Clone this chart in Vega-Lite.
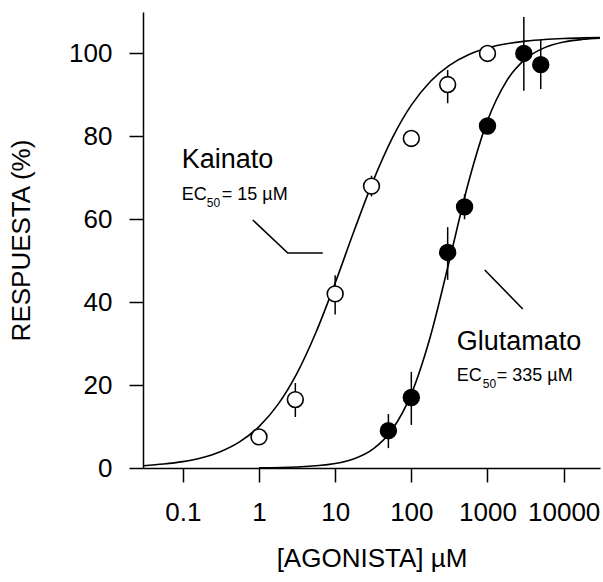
{
  "$schema": "https://vega.github.io/schema/vega-lite/v6.json",
  "width": 457,
  "height": 456,
  "autosize": "none",
  "padding": {"left": 143, "top": 12, "right": 3, "bottom": 114},
  "background": "white",
  "config": {
    "view": {"stroke": null},
    "font": "Liberation Sans",
    "axis": {
      "grid": false,
      "domainColor": "black",
      "domainWidth": 1.5,
      "tickColor": "black",
      "tickWidth": 1.5,
      "tickSize": 14,
      "labelFont": "Liberation Sans",
      "labelFontSize": 26,
      "labelColor": "black",
      "titleFont": "Liberation Sans",
      "titleFontSize": 26,
      "titleFontWeight": "normal",
      "titleColor": "black"
    }
  },
  "datasets": {
    "curves": [
      {"serie": "Kainato", "x": 0.03, "y": 0.56},
      {"serie": "Kainato", "x": 0.0562, "y": 0.95},
      {"serie": "Kainato", "x": 0.1, "y": 1.54},
      {"serie": "Kainato", "x": 0.1778, "y": 2.48},
      {"serie": "Kainato", "x": 0.3162, "y": 3.99},
      {"serie": "Kainato", "x": 0.5623, "y": 6.35},
      {"serie": "Kainato", "x": 1, "y": 9.98},
      {"serie": "Kainato", "x": 1.778, "y": 15.34},
      {"serie": "Kainato", "x": 3.162, "y": 22.89},
      {"serie": "Kainato", "x": 5.623, "y": 32.8},
      {"serie": "Kainato", "x": 10, "y": 44.61},
      {"serie": "Kainato", "x": 17.78, "y": 57.27},
      {"serie": "Kainato", "x": 31.62, "y": 69.33},
      {"serie": "Kainato", "x": 56.23, "y": 79.59},
      {"serie": "Kainato", "x": 100, "y": 87.53},
      {"serie": "Kainato", "x": 177.8, "y": 93.25},
      {"serie": "Kainato", "x": 316.2, "y": 97.13},
      {"serie": "Kainato", "x": 562.3, "y": 99.68},
      {"serie": "Kainato", "x": 1000, "y": 101.31},
      {"serie": "Kainato", "x": 1778, "y": 102.33},
      {"serie": "Kainato", "x": 3162, "y": 102.97},
      {"serie": "Kainato", "x": 5623, "y": 103.37},
      {"serie": "Kainato", "x": 10000, "y": 103.61},
      {"serie": "Kainato", "x": 17783, "y": 103.76},
      {"serie": "Kainato", "x": 30000, "y": 103.85},
      {"serie": "Glutamato", "x": 1, "y": 0.05},
      {"serie": "Glutamato", "x": 3.162, "y": 0.24},
      {"serie": "Glutamato", "x": 10, "y": 1.07},
      {"serie": "Glutamato", "x": 17.78, "y": 2.24},
      {"serie": "Glutamato", "x": 31.62, "y": 4.62},
      {"serie": "Glutamato", "x": 56.23, "y": 9.3},
      {"serie": "Glutamato", "x": 100, "y": 17.88},
      {"serie": "Glutamato", "x": 177.8, "y": 31.74},
      {"serie": "Glutamato", "x": 316.2, "y": 50.05},
      {"serie": "Glutamato", "x": 562.3, "y": 68.87},
      {"serie": "Glutamato", "x": 1000, "y": 83.79},
      {"serie": "Glutamato", "x": 1778, "y": 93.34},
      {"serie": "Glutamato", "x": 3162, "y": 98.67},
      {"serie": "Glutamato", "x": 5623, "y": 101.41},
      {"serie": "Glutamato", "x": 10000, "y": 102.76},
      {"serie": "Glutamato", "x": 17783, "y": 103.41},
      {"serie": "Glutamato", "x": 30000, "y": 103.7}
    ],
    "points": [
      {"serie": "Kainato", "x": 1, "y": 7.5, "lo": 7.5, "hi": 7.5},
      {"serie": "Kainato", "x": 3, "y": 16.5, "lo": 12.3, "hi": 20.5},
      {"serie": "Kainato", "x": 10, "y": 42, "lo": 37, "hi": 46.5},
      {"serie": "Kainato", "x": 30, "y": 68, "lo": 65.5, "hi": 70.5},
      {"serie": "Kainato", "x": 100, "y": 79.5, "lo": 79.5, "hi": 79.5},
      {"serie": "Kainato", "x": 300, "y": 92.5, "lo": 88, "hi": 96},
      {"serie": "Kainato", "x": 1000, "y": 100, "lo": 100, "hi": 100},
      {"serie": "Glutamato", "x": 50, "y": 9, "lo": 4.8, "hi": 13},
      {"serie": "Glutamato", "x": 100, "y": 17, "lo": 10.4, "hi": 23.2},
      {"serie": "Glutamato", "x": 300, "y": 52, "lo": 45.4, "hi": 58.1},
      {"serie": "Glutamato", "x": 500, "y": 63, "lo": 60, "hi": 66},
      {"serie": "Glutamato", "x": 1000, "y": 82.5, "lo": 82.5, "hi": 82.5},
      {"serie": "Glutamato", "x": 3000, "y": 100, "lo": 91, "hi": 108.8},
      {"serie": "Glutamato", "x": 5000, "y": 97.3, "lo": 91.4, "hi": 103.3}
    ],
    "leaders": [
      {"serie": "Kainato", "x": 0.829, "y": 59.83, "o": 1},
      {"serie": "Kainato", "x": 2.389, "y": 51.87, "o": 2},
      {"serie": "Kainato", "x": 6.88, "y": 51.87, "o": 3},
      {"serie": "Glutamato", "x": 921, "y": 47.77, "o": 1},
      {"serie": "Glutamato", "x": 2906, "y": 38.36, "o": 2}
    ],
    "names": [
      {"label": "Kainato", "x": 0.0969, "y": 72.4},
      {"label": "Glutamato", "x": 395, "y": 28.47}
    ],
    "ec": [
      {"label": "EC", "x": 0.0969, "y": 64.66},
      {"label": "= 15 µM", "x": 0.325, "y": 64.66},
      {"label": "EC", "x": 395, "y": 20.99},
      {"label": "= 335 µM", "x": 1324, "y": 20.99}
    ],
    "subs": [
      {"label": "50", "x": 0.2064, "y": 62.97},
      {"label": "50", "x": 867, "y": 19.3}
    ]
  },
  "encoding": {
    "x": {
      "field": "x",
      "type": "quantitative",
      "scale": {"type": "log", "domain": [0.03, 30000], "nice": false},
      "axis": {
        "title": "[AGONISTA] µM",
        "values": [0.1, 1, 10, 100, 1000, 10000],
        "labelExpr": "datum.value >= 1 ? format(datum.value, 'd') : format(datum.value, '.1f')",
        "labelPadding": 17,
        "titlePadding": 20,
        "labelFlush": false,
        "labelOverlap": false
      }
    },
    "y": {
      "field": "y",
      "type": "quantitative",
      "scale": {"domain": [0, 110], "nice": false},
      "axis": {
        "title": "RESPUESTA (%)",
        "values": [0, 20, 40, 60, 80, 100],
        "labelPadding": 17,
        "titlePadding": 34
      }
    }
  },
  "layer": [
    {
      "data": {"name": "curves"},
      "mark": {"type": "line", "color": "black", "strokeWidth": 1.6, "interpolate": "monotone"},
      "encoding": {"detail": {"field": "serie"}}
    },
    {
      "data": {"name": "leaders"},
      "mark": {"type": "line", "color": "black", "strokeWidth": 1.6},
      "encoding": {"detail": {"field": "serie"}, "order": {"field": "o"}}
    },
    {
      "data": {"name": "points"},
      "mark": {"type": "rule", "color": "black", "strokeWidth": 1.5},
      "encoding": {"y": {"field": "lo", "type": "quantitative"}, "y2": {"field": "hi"}}
    },
    {
      "data": {"name": "points"},
      "mark": {"type": "point", "shape": "circle", "size": 250, "strokeWidth": 1.6, "stroke": "black", "opacity": 1},
      "encoding": {
        "fill": {
          "field": "serie",
          "type": "nominal",
          "scale": {"domain": ["Kainato", "Glutamato"], "range": ["white", "black"]},
          "legend": null
        }
      }
    },
    {
      "data": {"name": "names"},
      "mark": {"type": "text", "align": "left", "baseline": "alphabetic", "fontSize": 27, "fill": "black", "font": "Liberation Sans"},
      "encoding": {"text": {"field": "label"}}
    },
    {
      "data": {"name": "ec"},
      "mark": {"type": "text", "align": "left", "baseline": "alphabetic", "fontSize": 18, "fill": "black", "font": "Liberation Sans"},
      "encoding": {"text": {"field": "label"}}
    },
    {
      "data": {"name": "subs"},
      "mark": {"type": "text", "align": "left", "baseline": "alphabetic", "fontSize": 12, "fill": "black", "font": "Liberation Sans"},
      "encoding": {"text": {"field": "label"}}
    }
  ]
}
